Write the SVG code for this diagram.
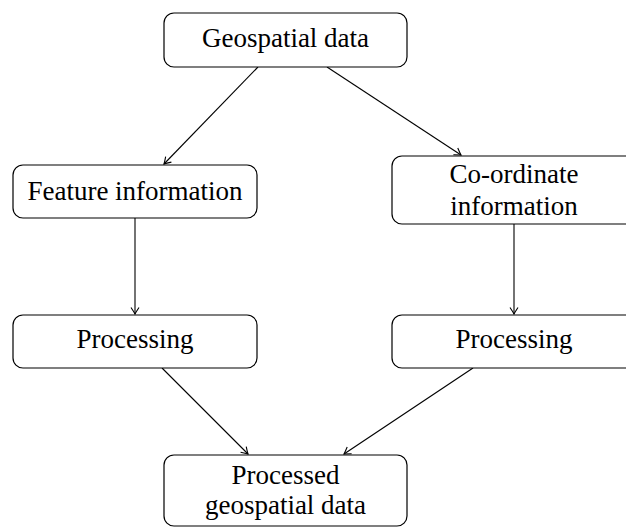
<svg xmlns="http://www.w3.org/2000/svg" width="626" height="527" viewBox="0 0 626 527">
<style>
.box{fill:#fff;stroke:#000;stroke-width:1.2}
.lbl{font-family:"Liberation Serif","Times New Roman",serif;font-size:27px;fill:#000;text-anchor:middle}
.edge{stroke:#000;stroke-width:1.1;fill:none;marker-end:url(#arr)}
</style>
<defs>
<marker id="arr" viewBox="-8 -5 10 10" refX="0" refY="0" markerWidth="10" markerHeight="10" markerUnits="userSpaceOnUse" orient="auto">
<path d="M-6.5,-4 Q-2,-1 0,0 Q-2,1 -6.5,4" fill="none" stroke="#000" stroke-width="1.1"/>
</marker>
</defs>
<rect width="626" height="527" fill="#fff"/>
<g id="connectors">
<line class="edge" x1="258" y1="67" x2="164" y2="164"/>
<line class="edge" x1="327" y1="67" x2="461" y2="155"/>
<line class="edge" x1="135" y1="218" x2="135" y2="314"/>
<line class="edge" x1="514" y1="224" x2="514" y2="314"/>
<line class="edge" x1="162" y1="368" x2="248" y2="454"/>
<line class="edge" x1="473" y1="368" x2="344" y2="454"/>
</g>
<g id="n-geo">
<rect class="box" x="164" y="13" width="243" height="54" rx="10"/>
<text class="lbl" x="285.5" y="47">Geospatial data</text>
</g>
<g id="n-feature">
<rect class="box" x="13" y="165" width="244" height="53" rx="10"/>
<text class="lbl" x="135" y="200">Feature information</text>
</g>
<g id="n-coord">
<rect class="box" x="392" y="156" width="244" height="68" rx="10"/>
<text class="lbl" x="514" y="183">Co-ordinate</text>
<text class="lbl" x="514" y="215">information</text>
</g>
<g id="n-proc1">
<rect class="box" x="13" y="315" width="244" height="53" rx="10"/>
<text class="lbl" x="135" y="348">Processing</text>
</g>
<g id="n-proc2">
<rect class="box" x="392" y="315" width="244" height="53" rx="10"/>
<text class="lbl" x="514" y="348">Processing</text>
</g>
<g id="n-out">
<rect class="box" x="164" y="455" width="243" height="71" rx="10"/>
<text class="lbl" x="285.5" y="484">Processed</text>
<text class="lbl" x="285.5" y="514">geospatial data</text>
</g>
</svg>
